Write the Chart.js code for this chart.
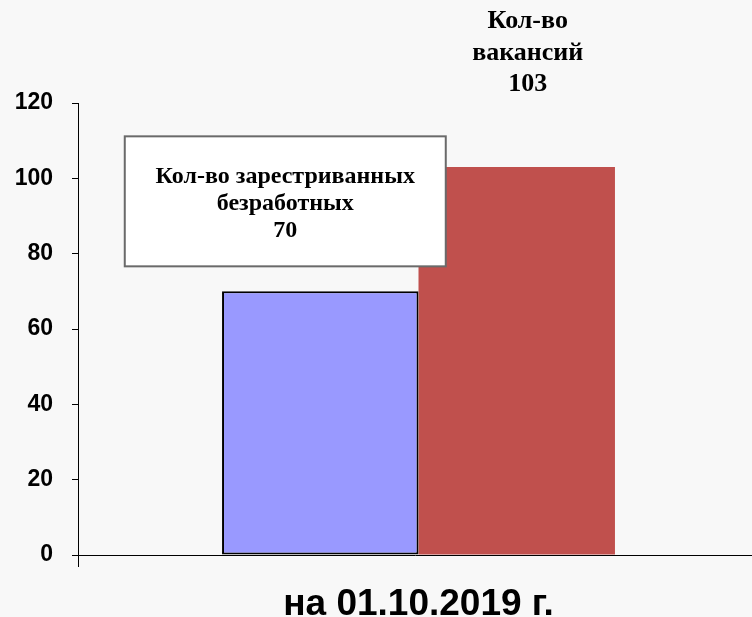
<!DOCTYPE html>
<html>
<head>
<meta charset="utf-8">
<script src="https://cdn.jsdelivr.net/npm/chart.js@4"></script>
<style>
  html, body { margin: 0; padding: 0; background: #f8f8f8; }
  #wrap { width: 752px; height: 617px; }
</style>
</head>
<body>
<div id="wrap"><canvas id="myChart" width="752" height="617"></canvas></div>
<script>
// данные диаграммы
const categories = ['на 01.10.2019 г.'];
const unemployed = [70];
const vacancies = [103];
const unemployedLabel = ['Кол-во зарестриванных', 'безработных'];
const vacanciesLabel = ['Кол-во', 'вакансий'];
const yTicks = [0, 20, 40, 60, 80, 100, 120];

// ось X в оригинале уходит чуть за правый край
const stretchX = {
  id: 'stretchX',
  afterLayout(chart) {
    const x = chart.scales.x;
    x.right += 7;
    x.width += 7;
    x.configure();
  }
};

// подписи над столбцами (рамка для безработных, просто текст для вакансий)
const labelsPlugin = {
  id: 'barLabels',
  afterDatasetsDraw(chart) {
    const ctx = chart.ctx;
    const blue = chart.getDatasetMeta(0).data[0];
    const red = chart.getDatasetMeta(1).data[0];
    ctx.save();
    ctx.font = 'bold 24px "Liberation Serif", "Times New Roman", serif';
    ctx.textAlign = 'center';
    ctx.textBaseline = 'alphabetic';

    // рамка
    const bw = 321, bh = 130;
    const bx = blue.x - 35 - bw / 2;
    const by = blue.y - 25 - bh;
    ctx.fillStyle = '#ffffff';
    ctx.fillRect(bx, by, bw, bh);
    ctx.strokeStyle = '#6a6a6a';
    ctx.lineWidth = 2;
    ctx.strokeRect(bx, by, bw, bh);

    ctx.fillStyle = '#000';
    const lines1 = unemployedLabel.concat([String(unemployed[0])]);
    lines1.forEach((t, i) => ctx.fillText(t, bx + bw / 2, by + 47 + i * 27));

    ctx.font = 'bold 26px "Liberation Serif", "Times New Roman", serif';
    const lines2 = vacanciesLabel.concat([String(vacancies[0])]);
    lines2.forEach((t, i) => ctx.fillText(t, red.x + 11, red.y - 139 + i * 31.5));
    ctx.restore();
  }
};

new Chart('myChart', {
  type: 'bar',
  data: {
    labels: categories,
    datasets: [{
      data: unemployed,
      backgroundColor: '#9999ff',
      borderColor: '#000000',
      borderWidth: 2,
      borderSkipped: false,
      categoryPercentage: 0.577,
      barPercentage: 1
    }, {
      data: vacancies,
      backgroundColor: '#c0504d',
      borderWidth: 0,
      categoryPercentage: 0.577,
      barPercentage: 1
    }]
  },
  options: {
    responsive: false,
    animation: false,
    layout: { padding: { top: 103, right: 0, left: 0, bottom: 0 } },
    plugins: { legend: { display: false }, tooltip: { enabled: false } },
    scales: {
      x: {
        grid: { drawOnChartArea: false, tickLength: 12, color: '#000' },
        border: { display: true, color: '#000', width: 1 },
        ticks: {
          color: '#000',
          padding: 19,
          font: { family: '"Liberation Sans", Arial, sans-serif', size: 37, weight: 'bold', lineHeight: 1 }
        },
        afterFit(scale) { scale.height = 62; }
      },
      y: {
        min: 0,
        max: 120,
        afterBuildTicks(scale) { scale.ticks = yTicks.map(v => ({ value: v })); },
        grid: { drawOnChartArea: false, tickLength: 6, color: '#000' },
        border: { display: true, color: '#000', width: 1 },
        ticks: {
          color: '#000',
          padding: 19,
          font: { family: '"Liberation Sans", Arial, sans-serif', size: 23, weight: 'bold' }
        },
        afterFit(scale) { scale.width = 78; }
      }
    }
  },
  plugins: [stretchX, labelsPlugin]
});
</script>
</body>
</html>
